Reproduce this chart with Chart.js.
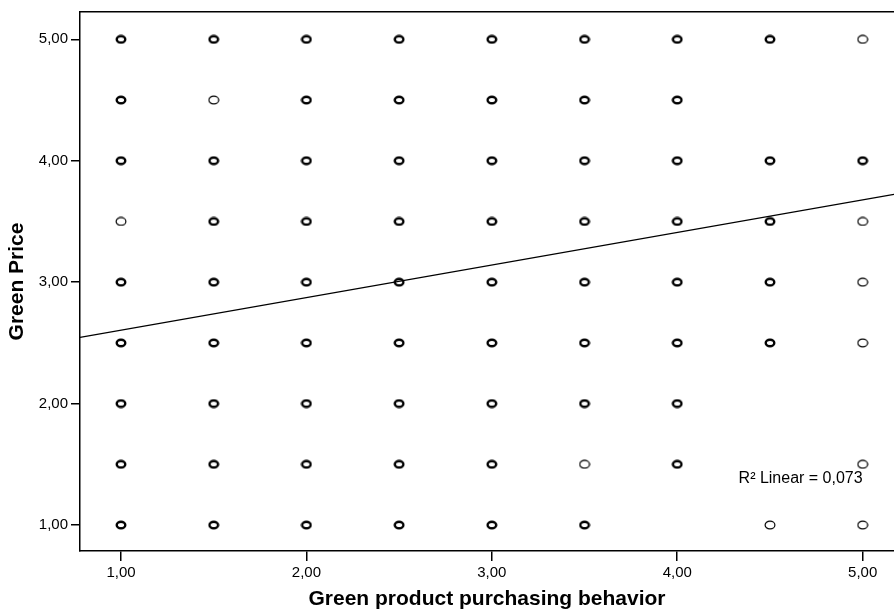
<!DOCTYPE html>
<html>
<head>
<meta charset="utf-8">
<script src="https://cdn.jsdelivr.net/npm/chart.js@4"></script>
<style>
  html, body { margin: 0; padding: 0; background: #fff; overflow: hidden; }
  #wrap { width: 894px; height: 614px; }
</style>
</head>
<body>
<div id="wrap"><canvas id="scatter"></canvas></div>
<script>
// cases that stack on the same spot (drawn with a heavy ring)
const stackedPoints = [
  {x:1,y:5},{x:1.5,y:5},{x:2,y:5},{x:2.5,y:5},{x:3,y:5},{x:3.5,y:5},{x:4,y:5},{x:4.5,y:5},
  {x:1,y:4.5},{x:2,y:4.5},{x:2.5,y:4.5},{x:3,y:4.5},{x:3.5,y:4.5},{x:4,y:4.5},
  {x:1,y:4},{x:1.5,y:4},{x:2,y:4},{x:2.5,y:4},{x:3,y:4},{x:3.5,y:4},{x:4,y:4},{x:4.5,y:4},{x:5,y:4},
  {x:1.5,y:3.5},{x:2,y:3.5},{x:2.5,y:3.5},{x:3,y:3.5},{x:3.5,y:3.5},{x:4,y:3.5},{x:4.5,y:3.5},
  {x:1,y:3},{x:1.5,y:3},{x:2,y:3},{x:2.5,y:3},{x:3,y:3},{x:3.5,y:3},{x:4,y:3},{x:4.5,y:3},
  {x:1,y:2.5},{x:1.5,y:2.5},{x:2,y:2.5},{x:2.5,y:2.5},{x:3,y:2.5},{x:3.5,y:2.5},{x:4,y:2.5},{x:4.5,y:2.5},
  {x:1,y:2},{x:1.5,y:2},{x:2,y:2},{x:2.5,y:2},{x:3,y:2},{x:3.5,y:2},{x:4,y:2},
  {x:1,y:1.5},{x:1.5,y:1.5},{x:2,y:1.5},{x:2.5,y:1.5},{x:3,y:1.5},{x:4,y:1.5},
  {x:1,y:1},{x:1.5,y:1},{x:2,y:1},{x:2.5,y:1},{x:3,y:1},{x:3.5,y:1}
];

// single cases (thin ring)
const singlePoints = [
  {x:5,y:5},{x:1.5,y:4.5},{x:1,y:3.5},{x:5,y:3.5},{x:5,y:3},{x:5,y:2.5},
  {x:3.5,y:1.5},{x:5,y:1.5},{x:4.5,y:1},{x:5,y:1}
];

// fitted line, read at the plot edges
const fitLine = [{x:0.779,y:2.545},{x:5.169,y:3.723}];
const fitLabel = 'R\u00B2 Linear = 0,073';

const xTickValues = [1, 2, 3, 4, 5];
const yTickValues = [1, 2, 3, 4, 5];
const fmt = v => v.toFixed(2).replace('.', ',');

function ring(lw) {
  const c = document.createElement('canvas');
  c.width = 12; c.height = 10;
  const g = c.getContext('2d');
  g.strokeStyle = '#000';
  g.lineWidth = lw;
  g.beginPath();
  g.ellipse(6, 5, (11 - lw) / 2, (9 - lw) / 2, 0, 0, Math.PI * 2);
  g.stroke();
  return c;
}

const fitText = {
  id: 'fitText',
  afterDatasetsDraw(chart) {
    const {ctx, scales} = chart;
    ctx.save();
    ctx.fillStyle = '#000';
    ctx.font = '16px "Liberation Sans", Arial, sans-serif';
    ctx.textAlign = 'right';
    ctx.textBaseline = 'middle';
    ctx.fillText(fitLabel, scales.x.getPixelForValue(5), scales.y.getPixelForValue(1.385));
    ctx.restore();
  }
};

const tickFont = { family: '"Liberation Sans", Arial, sans-serif', size: 15 };
const titleFont = { family: '"Liberation Sans", Arial, sans-serif', size: 21, weight: 'bold' };

const noSidePad = s => { s.paddingLeft = 0; s.paddingRight = 0; };

new Chart(document.getElementById('scatter'), {
  type: 'scatter',
  data: {
    datasets: [
      {
        label: 'stacked',
        data: stackedPoints,
        pointStyle: ring(2.4),
        pointRadius: 5
      },
      {
        label: 'single',
        data: singlePoints,
        pointStyle: ring(1.2),
        pointRadius: 5
      },
      {
        type: 'line',
        label: 'fit',
        data: fitLine,
        borderColor: '#000',
        borderWidth: 1.3,
        pointRadius: 0,
        fill: false
      }
    ]
  },
  options: {
    responsive: true,
    maintainAspectRatio: false,
    animation: false,
    layout: { autoPadding: false, padding: { top: 12, right: 0, bottom: 0, left: 0 } },
    plugins: { legend: { display: false }, tooltip: { enabled: false } },
    scales: {
      x: {
        type: 'linear',
        min: 0.779,
        max: 5.169,
        afterBuildTicks: s => { s.ticks = xTickValues.map(v => ({ value: v })); },
        afterFit: s => { s.height = 63; noSidePad(s); },
        ticks: { color: '#000', font: tickFont, padding: 3, maxRotation: 0, callback: v => fmt(v) },
        grid: { drawOnChartArea: false, drawTicks: true, tickLength: 10, color: '#000', lineWidth: 1.5 },
        border: { color: '#000', width: 1.5 },
        title: { display: true, text: 'Green product purchasing behavior', color: '#000', font: titleFont, padding: { top: 0, bottom: 2 } }
      },
      xTop: {
        type: 'linear',
        position: 'top',
        min: 0.779,
        max: 5.169,
        afterFit: s => { s.height = 0; noSidePad(s); },
        ticks: { display: false },
        grid: { display: false },
        border: { display: true, color: '#000', width: 1.5 }
      },
      y: {
        type: 'linear',
        min: 0.786,
        max: 5.225,
        afterBuildTicks: s => { s.ticks = yTickValues.map(v => ({ value: v })); },
        afterFit: s => { s.width = 80; s.paddingTop = 0; s.paddingBottom = 0; },
        ticks: { color: '#000', font: tickFont, padding: 3, callback: v => fmt(v) },
        grid: { drawOnChartArea: false, drawTicks: true, tickLength: 9, color: '#000', lineWidth: 1.5 },
        border: { color: '#000', width: 1.5 },
        title: { display: true, text: 'Green Price', color: '#000', font: titleFont, padding: { top: 5, bottom: 0 } }
      }
    }
  },
  plugins: [fitText]
});
</script>
</body>
</html>
